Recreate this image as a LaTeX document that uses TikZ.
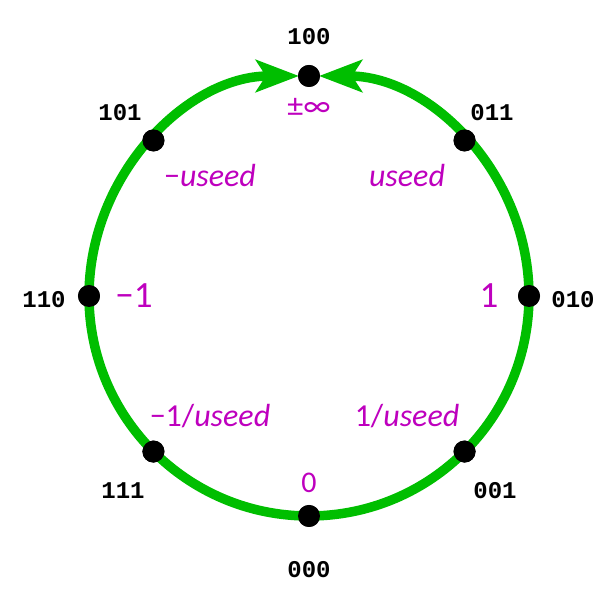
\documentclass[tikz,border=0pt]{standalone}
\usepackage{fontspec}
\setmainfont{Carlito}
\newfontfamily\bitfont{Liberation Mono}
\usetikzlibrary{arrows.meta}
\definecolor{ringgreen}{RGB}{0,190,0}
\definecolor{valmagenta}{RGB}{190,0,190}
\begin{document}
\begin{tikzpicture}[x=1pt, y=1pt,
    dot/.style={circle, fill=black, inner sep=0pt, minimum size=22pt},
    bits/.style={font=\bitfont\bfseries\fontsize{24}{28}\selectfont},
    val/.style={text=valmagenta, font=\fontsize{32}{38}\selectfont},
    bigval/.style={val, font=\fontsize{37}{44}\selectfont},
    ring/.style={ringgreen, line width=9.5pt,
        -{Stealth[length=43pt, width=32pt, inset=10pt]}, shorten >=10pt}]
    \useasboundingbox (-309,-305) rectangle (304,296);

    % points on the ring
    \node[dot] (p000) at (-90:220) {};
    \node[dot] (p001) at (-45:220) {};
    \node[dot] (p010) at (0:220) {};
    \node[dot] (p011) at (45:220) {};
    \node[dot] (p100) at (90:220) {};
    \node[dot] (p101) at (135:220) {};
    \node[dot] (p110) at (180:220) {};
    \node[dot] (p111) at (225:220) {};

    % the ring, both halves run up to 100
    \draw[ring] (p000.center) arc[start angle=-90, end angle=90, radius=220];
    \draw[ring] (p000.center) arc[start angle=270, end angle=90, radius=220];

    % redraw the dots on top
    \foreach \a in {-90,-45,0,45,90,135,180,225}
        \fill (\a:220) circle (11pt);

    % bit patterns
    \node[bits] (b100) at (0,259) {100};
    \node[bits] (b011) at (183,183) {011};
    \node[bits] (b010) at (264,-4) {010};
    \node[bits] (b001) at (186,-195) {001};
    \node[bits] (b000) at (0,-274) {000};
    \node[bits] (b111) at (-186,-195) {111};
    \node[bits] (b110) at (-265,-4) {110};
    \node[bits] (b101) at (-189,183) {101};

    % values
    \node[val] (vinf) at (0,189) {±∞};
    \node[val] (vuseed) at (98,120) {\textit{useed}};
    \node[bigval] (vone) at (180,0) {1};
    \node[val] (vinvuseed) at (98,-120) {1/\textit{useed}};
    \node[val, font=\fontsize{30}{36}\selectfont] (vzero) at (0,-187) {0};
    \node[val] (vminvuseed) at (-99,-120) {−1/\textit{useed}};
    \node[bigval] (vmone) at (-175,0) {−1};
    \node[val] (vmuseed) at (-99,120) {−\textit{useed}};
\end{tikzpicture}
\end{document}
